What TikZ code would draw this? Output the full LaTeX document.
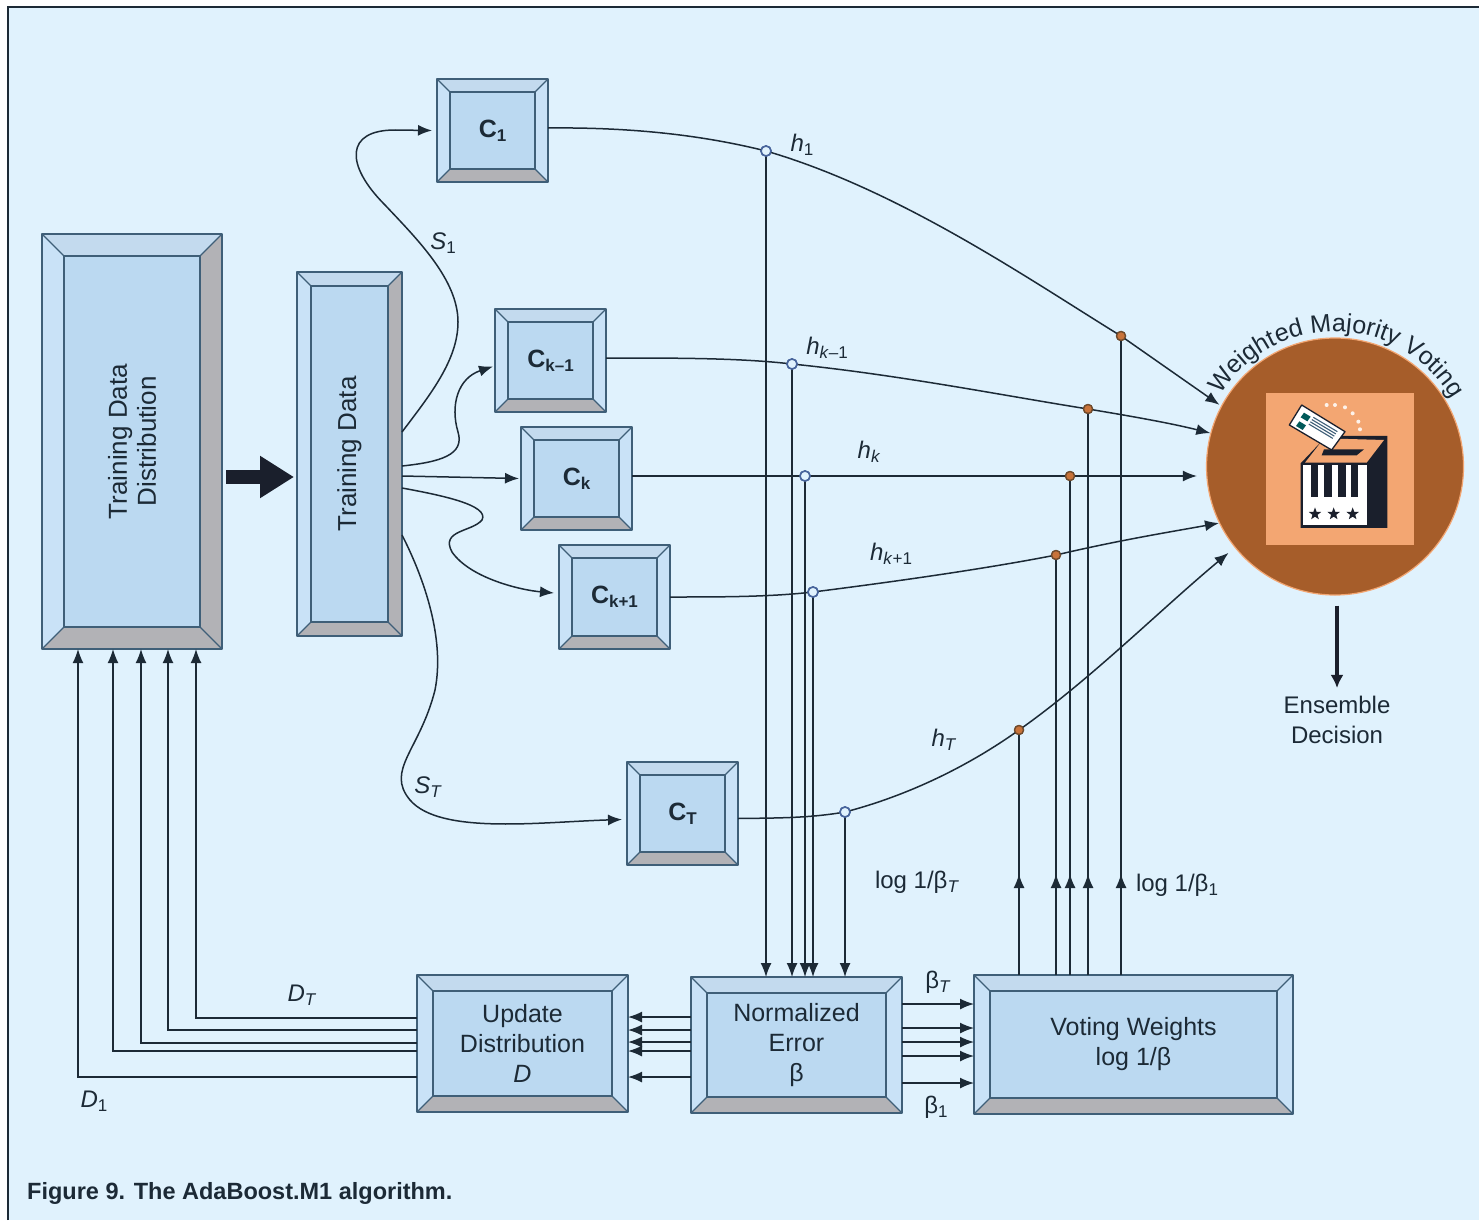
\documentclass[tikz,border=0pt]{standalone}
\usepackage{fontspec}
\setmainfont{Liberation Sans}
\usetikzlibrary{arrows.meta,calc,decorations.text,decorations.markings,shapes.geometric}
\definecolor{panel}{HTML}{E0F2FD}
\definecolor{edge}{HTML}{3F5F78}
\definecolor{face}{HTML}{BBD9F1}
\definecolor{bevtop}{HTML}{C3DAEE}
\definecolor{bevside}{HTML}{C9E2F7}
\definecolor{bevgrey}{HTML}{B2B2B6}
\definecolor{ink}{HTML}{1C2A36}
\definecolor{brownc}{HTML}{A65D2A}
\definecolor{peach}{HTML}{F3A672}
\definecolor{boxdark}{HTML}{1A1F2C}
\definecolor{HollowBlue}{HTML}{48659C}
\definecolor{OrangeEdge}{HTML}{6E4A2C}
\definecolor{OrangeFill}{HTML}{C8733A}
\newcommand{\fs}[1]{\fontsize{#1}{#1}\selectfont}
\newcommand{\lowsub}[1]{\raisebox{-4pt}{\fs{17}#1}}
% name, x0,y0,x1,y1, inset, right-bevel colour, text
\newcommand{\bevelbox}[8]{%
  \fill[bevtop] (#2,#3) rectangle (#4,#5);
  \fill[bevside] (#2,#3) -- ({#2+#6},{#3+#6}) -- ({#2+#6},{#5-#6}) -- (#2,#5) -- cycle;
  \fill[#7] (#4,#3) -- ({#4-#6},{#3+#6}) -- ({#4-#6},{#5-#6}) -- (#4,#5) -- cycle;
  \fill[bevgrey] (#2,#5) -- ({#2+#6},{#5-#6}) -- ({#4-#6},{#5-#6}) -- (#4,#5) -- cycle;
  \fill[face] ({#2+#6},{#3+#6}) rectangle ({#4-#6},{#5-#6});
  \draw[edge,line width=1.7pt,line join=round] (#2,#3) rectangle (#4,#5);
  \draw[edge,line width=1.4pt] ({#2+#6},{#3+#6}) rectangle ({#4-#6},{#5-#6});
  \draw[edge,line width=1.2pt] (#2,#3) -- ({#2+#6},{#3+#6}) (#4,#3) -- ({#4-#6},{#3+#6}) (#2,#5) -- ({#2+#6},{#5-#6}) (#4,#5) -- ({#4-#6},{#5-#6});
  \node[boxtext,minimum width={(#4-#2)*1pt},minimum height={(#5-#3)*1pt}] (#1) at ({(#2+#4)/2},{(#3+#5)/2}) {#8};
}
\tikzset{
  boxtext/.style={inner sep=0pt,outer sep=0pt,text=ink,align=center,font=\fs{25}},
  conn/.style={draw=ink,line width=1.5pt,-{Latex[length=14pt,width=11pt]}},
  midtip/.style={draw=ink,line width=1.5pt,postaction={decorate},decoration={markings,mark=at position 101pt with {\arrow{Latex[length=14pt,width=11pt]}}}},
  jblue/.style={circle,draw=HollowBlue,fill=panel,line width=1.6pt,minimum size=10pt,inner sep=0pt},
  jorange/.style={circle,draw=OrangeEdge,fill=OrangeFill,line width=1.3pt,minimum size=9pt,inner sep=0pt},
  lab/.style={text=ink,font=\fs{24},inner sep=0pt},
}
\begin{document}
\begin{tikzpicture}[x=1pt,y=-1pt]
\useasboundingbox (0,0) rectangle (1479,1220);
\fill[white] (0,0) rectangle (1479,1220);
\fill[panel] (8,7) rectangle (1479,1220);
\draw[ink,line width=1.8pt] (8,1220) -- (8,7) -- (1479,7);

\bevelbox{tdd}{42}{234}{222}{649}{22}{bevgrey}{\rotatebox{90}{\parbox{200pt}{\fs{26}\centering Training Data\\[3pt]Distribution}}}
\bevelbox{td}{297}{272}{402}{636}{14}{bevgrey}{\rotatebox{90}{\fs{26}Training Data}}
\bevelbox{c1}{437}{79}{548}{182}{13}{bevside}{\textbf{C\lowsub{1}}}
\bevelbox{ckm}{495}{309}{606}{412}{13}{bevside}{\textbf{C\lowsub{k–1}}}
\bevelbox{ck}{521}{427}{632}{530}{13}{bevside}{\textbf{C\lowsub{k}}}
\bevelbox{ckp}{559}{545}{670}{649}{13}{bevside}{\textbf{C\lowsub{k+1}}}
\bevelbox{ct}{627}{762}{738}{865}{13}{bevside}{\textbf{C\lowsub{T}}}
\bevelbox{ud}{417}{975}{628}{1112}{16}{bevside}{Update\\[5pt]Distribution\\[5pt]\textit{D}}
\bevelbox{ne}{691}{977}{902}{1113}{16}{bevside}{Normalized\\[5pt]Error\\[5pt]β}
\bevelbox{vw}{974}{975}{1293}{1114}{16}{bevside}{Voting Weights\\[5pt]log 1/β}

% voting circle
\node[circle,fill=brownc,draw=peach,line width=1.2pt,minimum size=257pt,inner sep=0pt] (vote) at (1335,466.5) {};
\fill[peach] (1266,393) rectangle (1414,545);
\begin{scope}[shift={(1180,290)},x=0.3333pt,y=-0.3333pt]
  \fill[boxdark] (440,438) -- (622,438) -- (622,714) -- (362,714) -- (362,520) -- cycle;
  \fill[peach] (375,518) -- (432,445) -- (612,450) -- (560,518) -- cycle;
  \fill[boxdark] (432,478) -- (552,478) -- (530,496) -- (425,496) -- cycle;
  \fill[white] (370,526) rectangle (560,704);
  \foreach \sx in {392,432,474,512} \fill[boxdark] (\sx,526) rectangle (\sx+23,620);
  \foreach \sx/\sn in {405/a,461/b,518/c}
    \node[star,star points=5,star point ratio=2.4,fill=boxdark,inner sep=0pt,minimum size=13pt] (star\sn) at (\sx,672) {};
  \draw[boxdark,fill=white,line width=1.3pt,line join=round] (365,345) -- (495,425) -- (455,480) -- (328,405) -- cycle;
  \fill[teal!70!black] (372,368) -- (392,380) -- (382,394) -- (362,382) -- cycle;
  \fill[teal!70!black] (358,394) -- (378,406) -- (368,420) -- (348,408) -- cycle;
  \foreach \dd in {0,15,30,45} \draw[edge,line width=1.1pt] ({400-\dd*0.3},{382+\dd*0.45}) -- ({472-\dd*0.3},{425+\dd*0.45});
  \foreach \dx/\dy in {440/345,465/345,495/352,518/370,535/395,540/418} \fill[white!85!peach] (\dx,\dy) circle[radius=6];
\end{scope}
\path[decorate,decoration={text along path,text align=center,
   text={|\fs{25}\color{ink}|Weighted Majority  Voting}}]
   ([shift={(150:135pt)}]vote.center) arc[start angle=150,end angle=28,radius=135pt];

% junctions
\node[jblue] (ja1) at (766,151) {};
\node[jblue] (ja2) at (792,364) {};
\node[jblue] (ja3) at (805,476) {};
\node[jblue] (ja4) at (813,592) {};
\node[jblue] (ja5) at (845,812) {};
\node[jorange] (jb1) at (1121,336) {};
\node[jorange] (jb2) at (1088,409) {};
\node[jorange] (jb3) at (1070,476) {};
\node[jorange] (jb4) at (1056,555) {};
\node[jorange] (jb5) at (1019,730) {};

% down into Normalized Error
\foreach \j in {ja1,ja2,ja3,ja4,ja5}
  \draw[conn] (\j.center) -- (\j.center |- ne.north);
% up from Voting Weights
\foreach \j in {jb1,jb2,jb3,jb4,jb5}
  \draw[midtip] (\j.center |- vw.north) -- (\j.center);

% classifier outputs
\draw[conn,shorten >=2pt] (c1.east) ++(0,-2.5) .. controls (640,127) and (710,137) .. (ja1.center) .. controls (900,190) and (1030,280) .. (jb1.center) -- (vote.152);
\draw[conn] (ckm.east) ++(0,-2.5) .. controls (680,358) and (740,358) .. (ja2.center) .. controls (900,375) and (1000,395) .. (jb2.center) .. controls (1130,416) and (1170,423) .. (vote.165);
\draw[conn,shorten >=9pt] (ck.east |- ja3.center) -- (ja3.center) -- (jb3.center) -- (vote.west |- ja3.center);
\draw[conn] (ckp.east) .. controls (720,597) and (770,597) .. (ja4.center) .. controls (900,581) and (990,568) .. (jb4.center) .. controls (1120,540) and (1170,532) .. (vote.206);
\draw[conn,shorten >=8pt] (ct.east) ++(0,5) .. controls (780,818) and (810,818) .. (ja5.center) .. controls (910,795) and (970,765) .. (jb5.center) .. controls (1090,680) and (1160,610) .. (vote.219);

% re-stamp junctions over lines
\node[jblue] at (ja1) {};
\node[jblue] at (ja2) {};
\node[jblue] at (ja3) {};
\node[jblue] at (ja4) {};
\node[jblue] at (ja5) {};
\node[jorange] at (jb1) {};
\node[jorange] at (jb2) {};
\node[jorange] at (jb3) {};
\node[jorange] at (jb4) {};
\node[jorange] at (jb5) {};

% training data to classifiers
\draw[conn] (td.east) ++(0,-22) .. controls (430,395) and (458,360) .. (458,322) .. controls (458,280) and (418,240) .. (385,205) .. controls (345,165) and (345,130) .. (395,130) -- ([xshift=-5pt]c1.west);
\draw[conn] (td.east) ++(0,12) .. controls (440,462) and (465,455) .. (458,432) .. controls (450,405) and (458,378) .. ([xshift=-2pt,yshift=-6pt]ckm.west);
\draw[conn] (td.east) ++(0,22) -- ([xshift=-2pt]ck.west);
\draw[conn] (td.east) ++(0,34) .. controls (440,495) and (490,505) .. (482,520) .. controls (472,532) and (440,530) .. (452,552) .. controls (470,578) and (520,590) .. ([xshift=-5pt,yshift=4pt]ckp.west);
\draw[conn] (td.east) ++(0,81) .. controls (425,580) and (445,640) .. (435,690) .. controls (420,750) and (385,770) .. (410,800) .. controls (440,835) and (540,822) .. ([xshift=-5pt,yshift=-6pt]ct.west);

% big arrows
\draw[boxdark,line width=14pt,-{Triangle[length=34pt,width=40pt]},shorten <=4pt,shorten >=3pt] (tdd.east |- 0,477) -- (td.west |- 0,477);
\node[lab,align=center] (ens) at (1337,720) {Ensemble\\[6pt]Decision};
\draw[boxdark,line width=3.5pt,-{Latex[length=13pt,width=13pt]},shorten <=10pt,shorten >=8pt] (vote.south -| ens.north) -- (ens.north);

% Normalized Error to Update Distribution
\foreach \yy in {1017,1030,1042,1051,1077}
  \draw[conn] (ne.west |- 0,\yy) -- (ud.east |- 0,\yy);
% Normalized Error to Voting Weights
\foreach \yy in {1004,1028,1042,1056,1083}
  \draw[conn] (ne.east |- 0,\yy) -- (vw.west |- 0,\yy);
% Update Distribution to Training Data Distribution
\foreach \yy/\xx in {1018/196,1030/168,1043/141,1051/113,1077/78}
  \draw[conn] (ud.west |- 0,\yy) -- (\xx,\yy) -- (\xx,649);

% labels
\node[lab] (ls1) at (443,243) {\textit{S}\lowsub{1}};
\node[lab] (lst) at (428,787) {\textit{S}\lowsub{\textit{T}}};
\node[lab] (lh1) at (802,145) {\textit{h}\lowsub{1}};
\node[lab] (lhm) at (827,348) {\textit{h}\lowsub{\textit{k}–1}};
\node[lab] (lhk) at (869,452) {\textit{h}\lowsub{\textit{k}}};
\node[lab] (lhp) at (891,554) {\textit{h}\lowsub{\textit{k}+1}};
\node[lab] (lht) at (944,740) {\textit{h}\lowsub{\textit{T}}};
\node[lab] (llt) at (917,882) {log 1/β\lowsub{\textit{T}}};
\node[lab] (ll1) at (1177,885) {log 1/β\lowsub{1}};
\node[lab] (ldt) at (302,995) {\textit{D}\lowsub{\textit{T}}};
\node[lab] (ld1) at (94,1101) {\textit{D}\lowsub{1}};
\node[lab] (lbt) at (938,982) {β\lowsub{\textit{T}}};
\node[lab] (lb1) at (936,1107) {β\lowsub{1}};
\node[anchor=west,inner sep=0pt,text=ink,font=\fs{23.5}\bfseries] (cap) at (27,1193) {Figure 9. The AdaBoost.M1 algorithm.};
\end{tikzpicture}
\end{document}
